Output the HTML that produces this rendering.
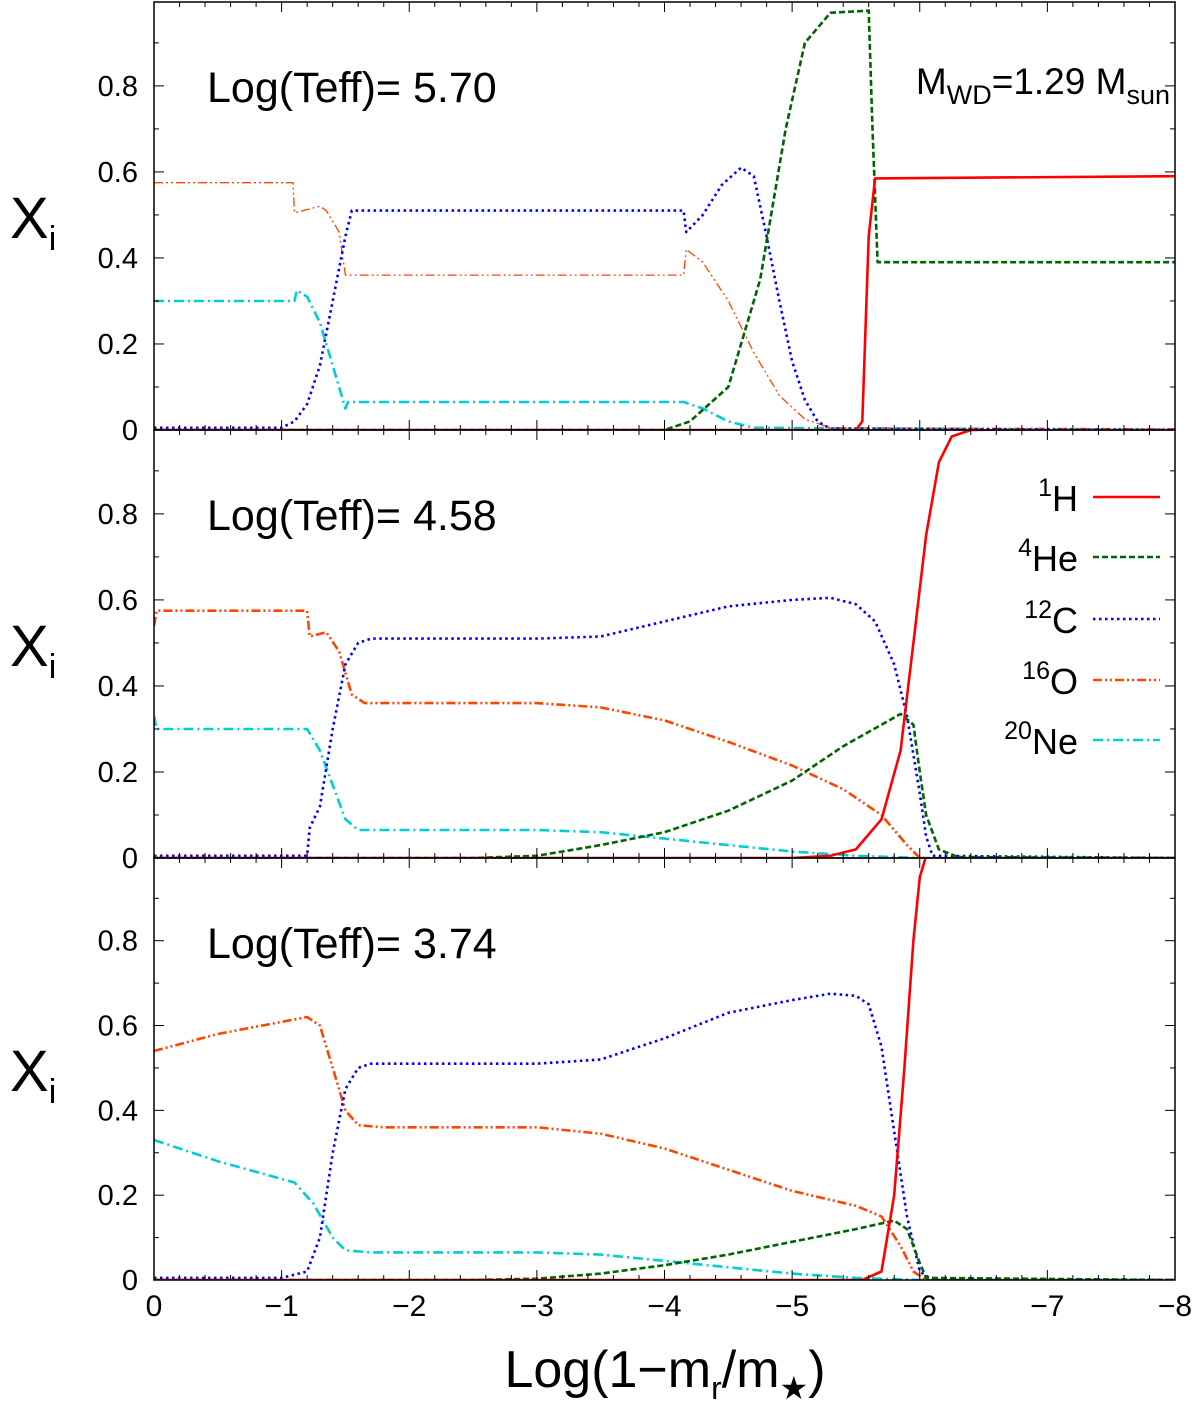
<!DOCTYPE html>
<html><head><meta charset="utf-8"><style>
body{margin:0;background:#fff;}
svg text{font-family:"Liberation Sans",sans-serif;fill:#000;}
</style></head><body>
<svg id="chart" width="1200" height="1407" viewBox="0 0 1200 1407" xmlns="http://www.w3.org/2000/svg"></svg>
<script>
// ---- data ----
const p1_H_x=[0,-5.5,-5.55,-5.6,-5.65,-8];
const p1_H_y=[0,0,0.02,0.45,0.585,0.59];
const p1_He_x=[0,-4.0,-4.2,-4.5,-4.75,-4.95,-5.1,-5.3,-5.6,-5.63,-5.67,-8];
const p1_He_y=[0,0,0.02,0.1,0.35,0.7,0.9,0.97,0.975,0.7,0.39,0.39];
const p1_C_x=[0,-1.0,-1.1,-1.2,-1.3,-1.4,-1.5,-1.55,-4.15,-4.17,-4.3,-4.45,-4.6,-4.7,-4.8,-4.9,-5.0,-5.1,-5.2,-5.3,-8];
const p1_C_y=[0.005,0.005,0.02,0.06,0.15,0.3,0.45,0.51,0.51,0.46,0.5,0.57,0.61,0.59,0.45,0.3,0.16,0.07,0.02,0.003,0];
const p1_O_x=[0,-1.09,-1.1,-1.3,-1.35,-1.45,-1.5,-4.15,-4.17,-4.3,-4.5,-4.7,-4.9,-5.1,-5.3,-8];
const p1_O_y=[0.575,0.575,0.505,0.52,0.51,0.46,0.36,0.36,0.42,0.39,0.3,0.18,0.08,0.025,0.005,0.003];
const p1_Ne_x=[0,-1.1,-1.12,-1.2,-1.3,-1.4,-1.5,-1.52,-4.15,-4.3,-4.5,-4.7,-8];
const p1_Ne_y=[0.3,0.3,0.325,0.31,0.25,0.15,0.05,0.065,0.065,0.05,0.02,0.005,0];

const p2_H_x=[0,-5.0,-5.3,-5.5,-5.7,-5.85,-5.95,-6.05,-6.15,-6.25,-6.4,-8];
const p2_H_y=[0,0,0.005,0.02,0.09,0.25,0.5,0.75,0.92,0.98,0.995,1.0];
const p2_He_x=[0,-2.5,-3,-3.5,-4,-4.5,-5,-5.4,-5.7,-5.85,-5.95,-6.0,-6.05,-6.15,-6.3,-8];
const p2_He_y=[0,0,0.005,0.03,0.06,0.11,0.18,0.26,0.31,0.335,0.31,0.2,0.1,0.02,0.002,0];
const p2_C_x=[0,-1.2,-1.22,-1.3,-1.4,-1.5,-1.6,-1.7,-3,-3.5,-4,-4.5,-5,-5.3,-5.5,-5.65,-5.8,-5.9,-6.0,-6.05,-6.1,-8];
const p2_C_y=[0.005,0.005,0.07,0.12,0.3,0.45,0.5,0.51,0.51,0.515,0.55,0.585,0.6,0.605,0.59,0.55,0.45,0.33,0.15,0.05,0.005,0];
const p2_O_x=[0,-0.02,-1.2,-1.22,-1.35,-1.45,-1.55,-1.65,-3,-3.5,-4,-4.5,-5,-5.4,-5.7,-5.9,-6.0,-8];
const p2_O_y=[0.54,0.575,0.575,0.515,0.525,0.48,0.38,0.36,0.36,0.35,0.32,0.27,0.215,0.16,0.1,0.03,0,0];
const p2_Ne_x=[0,-0.02,-1.2,-1.3,-1.4,-1.5,-1.6,-3,-3.5,-4,-4.5,-5,-5.5,-6,-8];
const p2_Ne_y=[0.33,0.3,0.3,0.25,0.17,0.09,0.065,0.065,0.06,0.045,0.03,0.015,0.005,0,0];

const p3_H_x=[0,-5.55,-5.7,-5.8,-5.88,-5.95,-6.0,-6.05,-8];
const p3_H_y=[0,0,0.02,0.2,0.5,0.8,0.95,1.0,1.0];
const p3_He_x=[0,-2.5,-3,-3.5,-4,-4.5,-5,-5.5,-5.8,-5.9,-6.0,-6.05,-8];
const p3_He_y=[0,0,0.003,0.015,0.035,0.06,0.09,0.12,0.14,0.12,0.04,0.005,0];
const p3_C_x=[0,-1.0,-1.2,-1.3,-1.4,-1.5,-1.6,-1.7,-3,-3.5,-4,-4.5,-5,-5.3,-5.5,-5.6,-5.7,-5.8,-5.9,-6.0,-6.1,-8];
const p3_C_y=[0.005,0.005,0.02,0.1,0.3,0.45,0.5,0.51,0.51,0.52,0.57,0.63,0.66,0.675,0.67,0.65,0.55,0.35,0.15,0.02,0,0];
const p3_O_x=[0,-0.5,-1.2,-1.3,-1.4,-1.5,-1.6,-1.8,-3,-3.5,-4,-4.5,-5,-5.5,-5.7,-5.85,-5.95,-6.05,-8];
const p3_O_y=[0.54,0.58,0.62,0.6,0.5,0.4,0.365,0.36,0.36,0.345,0.31,0.26,0.21,0.175,0.15,0.08,0.02,0,0];
const p3_Ne_x=[0,-0.5,-1.1,-1.25,-1.4,-1.5,-1.7,-3,-3.5,-4,-4.5,-5,-5.5,-6,-8];
const p3_Ne_y=[0.33,0.28,0.23,0.18,0.1,0.07,0.065,0.065,0.06,0.045,0.03,0.015,0.005,0,0];

const xTicks=[0,-1,-2,-3,-4,-5,-6,-7,-8];
const yTicks=[0,0.2,0.4,0.6,0.8];
const panelLabels=["Log(Teff)= 5.70","Log(Teff)= 4.58","Log(Teff)= 3.74"];

// ---- layout ----
const NS="http://www.w3.org/2000/svg";
const svg=document.getElementById('chart');
const X0=154,X1=1175,YMAX=0.995;
const panels=[{top:2,bot:430},{top:430,bot:858},{top:858,bot:1280}];
const xs=v=>X0+(v/-8)*(X1-X0);
function mk(tag,attrs,parent){const e=document.createElementNS(NS,tag);for(const k in attrs)e.setAttribute(k,attrs[k]);(parent||svg).appendChild(e);return e;}
const styles={
 H:{stroke:'#ff0000',dash:''},
 He:{stroke:'#006400',dash:'6,3'},
 C:{stroke:'#0000ff',dash:'2.5,3.5'},
 O:{stroke:'#ff4500',dash:'9,3,2,3,2,3'},
 Ne:{stroke:'#00ced1',dash:'10,4,2,4'}
};
const data=[
 {H:[p1_H_x,p1_H_y],He:[p1_He_x,p1_He_y],C:[p1_C_x,p1_C_y],O:[p1_O_x,p1_O_y],Ne:[p1_Ne_x,p1_Ne_y]},
 {H:[p2_H_x,p2_H_y],He:[p2_He_x,p2_He_y],C:[p2_C_x,p2_C_y],O:[p2_O_x,p2_O_y],Ne:[p2_Ne_x,p2_Ne_y]},
 {H:[p3_H_x,p3_H_y],He:[p3_He_x,p3_He_y],C:[p3_C_x,p3_C_y],O:[p3_O_x,p3_O_y],Ne:[p3_Ne_x,p3_Ne_y]}
];
const defs=mk('defs',{});
panels.forEach((p,i)=>{
  const ys=v=>p.bot-(v/YMAX)*(p.bot-p.top);
  const g=mk('g',{});
  
  
  const cp=mk('clipPath',{id:'cp'+i},defs);
  mk('rect',{x:X0,y:p.top,width:X1-X0,height:p.bot-p.top},cp);
  ['Ne','O','C','He','H'].forEach(k=>{
    const [ax,ay]=data[i][k];
    const d=ax.map((v,j)=>(j?'L':'M')+xs(v).toFixed(1)+','+ys(ay[j]).toFixed(1)).join('');
    const w=(i===0&&k==='O')?1.3:2.6;
    const path=mk('path',{d:d,fill:'none',stroke:styles[k].stroke,'stroke-width':w,'stroke-dasharray':styles[k].dash,'stroke-linejoin':'round','clip-path':'url(#cp'+i+')'},g);
    
    
  });
  mk('rect',{x:X0,y:p.top,width:X1-X0,height:p.bot-p.top,fill:'none',stroke:'#000','stroke-width':1.5},g);
  for(let t=0;t>=-8.0001;t-=0.2){
    const major=Math.abs(t-Math.round(t))<0.01;
    const L=major?10:5,x=xs(t);
    mk('line',{x1:x,x2:x,y1:p.bot,y2:p.bot-L,stroke:'#000','stroke-width':1},g);
    mk('line',{x1:x,x2:x,y1:p.top,y2:p.top+L,stroke:'#000','stroke-width':1},g);
  }
  for(let t=0;t<=0.95;t+=0.1){
    const major=Math.round(t*10)%2===0,L=major?10:5,y=ys(t);
    mk('line',{x1:X0,x2:X0+L,y1:y,y2:y,stroke:'#000','stroke-width':1},g);
    mk('line',{x1:X1,x2:X1-L,y1:y,y2:y,stroke:'#000','stroke-width':1},g);
  }
  yTicks.forEach(t=>{
    const tx=mk('text',{x:138,y:ys(t)+10,'font-size':29,'text-anchor':'end'},g);
    tx.textContent=t===0?'0':t.toFixed(1);
    
    
  });
  const yl=mk('text',{x:10,y:(p.top+p.bot)/2+22,'font-size':58},g);
  yl.innerHTML='X<tspan font-size="34" dy="12">i</tspan>';
  
  
  const pl=mk('text',{x:207,y:p.top+100,'font-size':43},g);
  pl.textContent=panelLabels[i];
  
  
});
xTicks.forEach(t=>{
  const tx=mk('text',{x:xs(t),y:1316,'font-size':30,'text-anchor':'middle'});
  tx.textContent=t===0?'0':'\u2212'+Math.abs(t);
  
  
});
const xt=mk('text',{x:665,y:1387,'font-size':52,'text-anchor':'middle'});
xt.innerHTML='Log(1\u2212m<tspan font-size="32" dy="12">r</tspan><tspan dy="-12">/m</tspan><tspan font-size="32" dy="12">\u2605</tspan><tspan dy="-12">)</tspan>';


const mw=mk('text',{x:1170,y:94,'font-size':37,'text-anchor':'end'});
mw.innerHTML='M<tspan font-size="27" dy="10">WD</tspan><tspan dy="-10">=1.29 M</tspan><tspan font-size="27" dy="10">sun</tspan>';


const legNames=[['1','H'],['4','He'],['12','C'],['16','O'],['20','Ne']];
const legKeys=['H','He','C','O','Ne'];
const legY=[497,557,619,680,740];
legKeys.forEach((k,j)=>{
  const g=mk('g',{});
  
  
  const t=mk('text',{x:1078,y:legY[j]+14,'font-size':36,'text-anchor':'end'},g);
  t.innerHTML='<tspan font-size="25" dy="-15">'+legNames[j][0]+'</tspan><tspan dy="15">'+legNames[j][1]+'</tspan>';
  mk('line',{x1:1093,x2:1160,y1:legY[j],y2:legY[j],stroke:styles[k].stroke,'stroke-width':2.6,'stroke-dasharray':styles[k].dash},g);
});
</script>
</body></html>
